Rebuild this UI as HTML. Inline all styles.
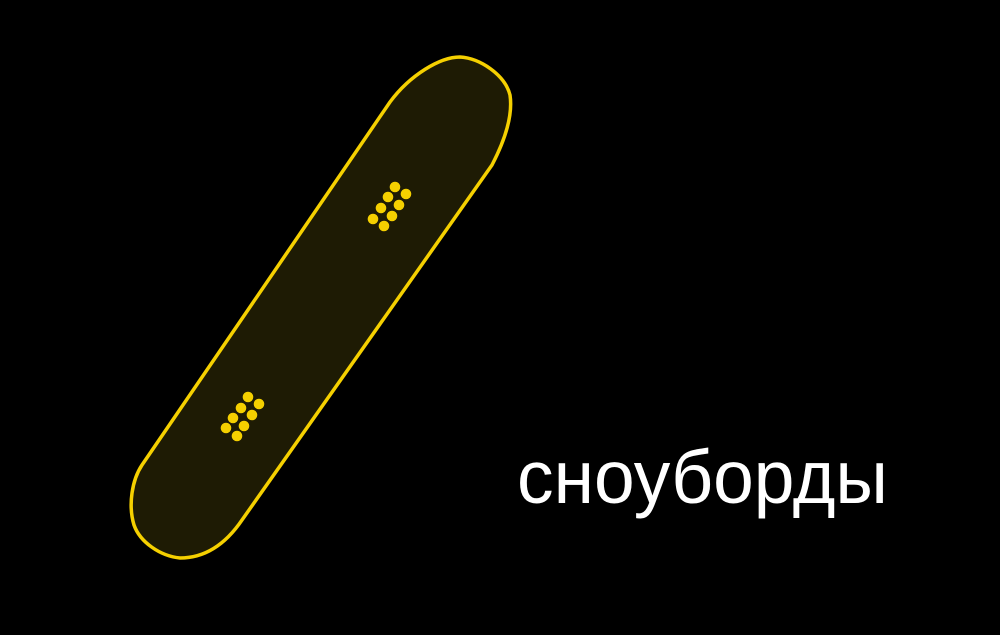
<!DOCTYPE html>
<html><head><meta charset="utf-8"><style>
html,body{margin:0;padding:0;background:#000;width:1000px;height:635px;overflow:hidden}
</style></head><body>
<svg width="1000" height="635" viewBox="0 0 1000 635" xmlns="http://www.w3.org/2000/svg">
<rect width="1000" height="635" fill="#000"/>
<path d="M390,102 C410,75 440,57 460,57 C480,58 505,75 510,95 C513,115 505,140 492,165 L242,520 C225,545 205,558 180,558 C160,556 140,542 134,525 C128,505 132,480 142,465 Z" fill="#1e1b04" stroke="#f5d000" stroke-width="3.5" stroke-linejoin="round"/>
<g fill="#f5d000">
<circle cx="395" cy="187" r="5.3"/><circle cx="406" cy="194" r="5.3"/>
<circle cx="388" cy="197" r="5.3"/><circle cx="399" cy="205" r="5.3"/>
<circle cx="381" cy="208" r="5.3"/><circle cx="392" cy="216" r="5.3"/>
<circle cx="373" cy="219" r="5.3"/><circle cx="384" cy="226" r="5.3"/>
</g>
<g fill="#f5d000">
<circle cx="248" cy="397" r="5.3"/><circle cx="259" cy="404" r="5.3"/>
<circle cx="241" cy="408" r="5.3"/><circle cx="252" cy="415" r="5.3"/>
<circle cx="233" cy="418" r="5.3"/><circle cx="244" cy="426" r="5.3"/>
<circle cx="226" cy="428" r="5.3"/><circle cx="237" cy="436" r="5.3"/>
</g>
<text x="517" y="503" fill="#fff" font-family="'Liberation Sans', sans-serif" font-size="75" textLength="371" lengthAdjust="spacingAndGlyphs">сноуборды</text>
</svg>
</body></html>
